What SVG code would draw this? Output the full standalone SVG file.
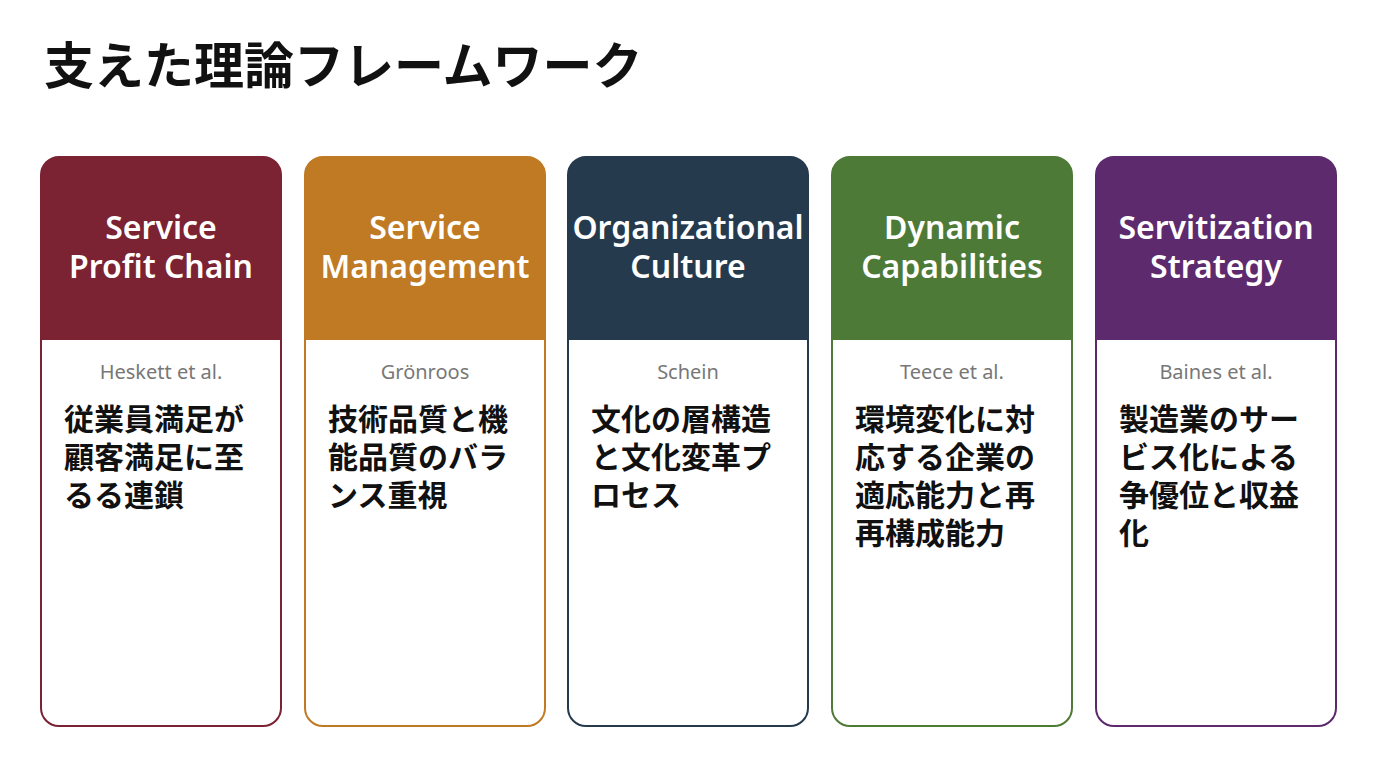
<svg xmlns="http://www.w3.org/2000/svg" width="1376" height="768" viewBox="0 0 1376 768">
<style>
.t{font-family:"Noto Sans CJK JP","Noto Sans",sans-serif;font-weight:700;fill:#111}
.h{font-family:"Noto Sans","Open Sans",sans-serif;font-weight:600;font-size:32px;fill:#fff;text-anchor:middle}
.a{font-family:"Noto Sans",sans-serif;font-size:20px;fill:#777;text-anchor:middle}
.b{font-family:"Noto Sans CJK JP",sans-serif;font-weight:700;font-size:30px;fill:#111}
</style>
<rect width="1376" height="768" fill="#fff"/>
<text class="t" x="44" y="84" font-size="50">支えた理論フレームワーク</text>
<g id="card1">
<rect x="41" y="157" width="240" height="569" rx="18" fill="#fff" stroke="#7B2233" stroke-width="2"/>
<path d="M41 340V175a18 18 0 0 1 18-18h204a18 18 0 0 1 18 18v165z" fill="#7B2233"/>
<text class="h" x="161" y="239">Service</text><text class="h" x="161" y="278">Profit Chain</text>
<text class="a" x="161" y="379">Heskett et al.</text>
<text class="b" x="64" y="430">従業員満足が</text><text class="b" x="64" y="468">顧客満足に至</text><text class="b" x="64" y="506">るる連鎖</text>
</g>
<g id="card2">
<rect x="305" y="157" width="240" height="569" rx="18" fill="#fff" stroke="#C07A24" stroke-width="2"/>
<path d="M305 340V175a18 18 0 0 1 18-18h204a18 18 0 0 1 18 18v165z" fill="#C07A24"/>
<text class="h" x="425" y="239">Service</text><text class="h" x="425" y="278">Management</text>
<text class="a" x="425" y="379">Grönroos</text>
<text class="b" x="328" y="430">技術品質と機</text><text class="b" x="328" y="468">能品質のバラ</text><text class="b" x="328" y="506">ンス重視</text>
</g>
<g id="card3">
<rect x="568" y="157" width="240" height="569" rx="18" fill="#fff" stroke="#263A4E" stroke-width="2"/>
<path d="M568 340V175a18 18 0 0 1 18-18h204a18 18 0 0 1 18 18v165z" fill="#263A4E"/>
<text class="h" x="688" y="239">Organizational</text><text class="h" x="688" y="278">Culture</text>
<text class="a" x="688" y="379">Schein</text>
<text class="b" x="591" y="430">文化の層構造</text><text class="b" x="591" y="468">と文化変革プ</text><text class="b" x="591" y="506">ロセス</text>
</g>
<g id="card4">
<rect x="832" y="157" width="240" height="569" rx="18" fill="#fff" stroke="#4E7A38" stroke-width="2"/>
<path d="M832 340V175a18 18 0 0 1 18-18h204a18 18 0 0 1 18 18v165z" fill="#4E7A38"/>
<text class="h" x="952" y="239">Dynamic</text><text class="h" x="952" y="278">Capabilities</text>
<text class="a" x="952" y="379">Teece et al.</text>
<text class="b" x="855" y="430">環境変化に対</text><text class="b" x="855" y="468">応する企業の</text><text class="b" x="855" y="506">適応能力と再</text><text class="b" x="855" y="544">再構成能力</text>
</g>
<g id="card5">
<rect x="1096" y="157" width="240" height="569" rx="18" fill="#fff" stroke="#5E2A6E" stroke-width="2"/>
<path d="M1096 340V175a18 18 0 0 1 18-18h204a18 18 0 0 1 18 18v165z" fill="#5E2A6E"/>
<text class="h" x="1216" y="239">Servitization</text><text class="h" x="1216" y="278">Strategy</text>
<text class="a" x="1216" y="379">Baines et al.</text>
<text class="b" x="1119" y="430">製造業のサー</text><text class="b" x="1119" y="468">ビス化による</text><text class="b" x="1119" y="506">争優位と収益</text><text class="b" x="1119" y="544">化</text>
</g>
<g id="connectors"/>
</svg>
